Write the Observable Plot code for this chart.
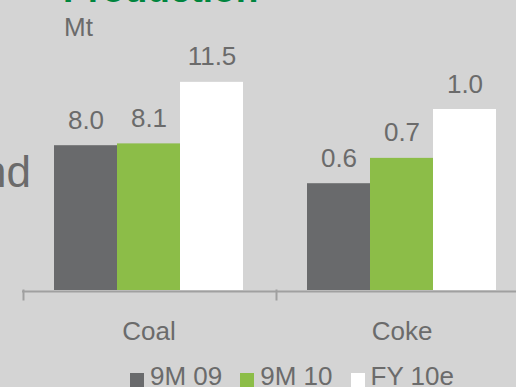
<!DOCTYPE html>
<html>
<head>
<meta charset="utf-8">
<script src="https://cdn.jsdelivr.net/npm/d3@7"></script>
<script src="https://cdn.jsdelivr.net/npm/@observablehq/plot@0.6"></script>
<style>
  html, body { margin: 0; padding: 0; background: #d4d4d4; }
  #wrap { position: relative; width: 516px; height: 387px; overflow: hidden; background: #d4d4d4;
          font-family: "Liberation Sans", Arial, sans-serif; color: #6b6b6b; }
  #wrap svg { position: absolute; left: 0; top: 0; overflow: visible; }
  .abs { position: absolute; white-space: nowrap; line-height: 1; }
  #title { left: 63px; top: -29px; font-size: 37px; font-weight: bold; color: #00853e; }
  #unit { left: 64px; top: 13.6px; font-size: 26px; }
  #cut { right: 485px; top: 149.8px; font-size: 44px; }
  #legend { left: 130px; top: 363.3px; font-size: 26px; display: flex; }
  #legend .item { margin-right: 18px; }
  #legend .sw { display: inline-block; width: 14px; height: 14px; margin-right: 6px; vertical-align: -2px; }
</style>
</head>
<body>
<div id="wrap">
  <div class="abs" id="title">Production</div>
  <div class="abs" id="unit">Mt</div>
  <div class="abs" id="cut">nd</div>
  <div class="abs" id="legend"></div>
</div>
<script>
const categories = ["Coal", "Coke"];
const series = ["9M 09", "9M 10", "FY 10e"];
const coalValues = [8.0, 8.1, 11.5];
const cokeValues = [0.59, 0.73, 1.0];
const cokeAxisFactor = 10; // coke is plotted on a secondary axis (1 Mt coke = 10 Mt coal height)
const colors = ["#696a6c", "#8cbd48", "#ffffff"];

const data = [];
series.forEach((s, i) => {
  data.push({category: "Coal", series: s, value: coalValues[i], plotValue: coalValues[i]});
  data.push({category: "Coke", series: s, value: cokeValues[i], plotValue: cokeValues[i] * cokeAxisFactor});
});

const H = 387, marginBottom = 97, marginTop = 72.8;
const plotH = H - marginBottom - marginTop;

const chart = Plot.plot({
  width: 516,
  height: H,
  marginLeft: 22,
  marginRight: -12,
  marginTop,
  marginBottom,
  style: {background: "transparent", fontFamily: "'Liberation Sans', Arial, sans-serif", fontSize: "26px", color: "#6b6b6b", overflow: "visible"},
  fx: {domain: categories, padding: 0, label: null, tickSize: 0, tickPadding: 31.5, axis: "bottom"},
  x: {domain: series, paddingInner: 0, paddingOuter: 32 / 63, axis: null},
  y: {domain: [0, 12], axis: null},
  color: {domain: series, range: colors},
  marks: [
    Plot.barY(data, {fx: "category", x: "series", y: "plotValue", fill: "series", inset: 0}),
    Plot.text(data, {fx: "category", x: "series", y: "plotValue", text: d => d.value.toFixed(1),
      lineAnchor: "bottom", dy: -17, fontSize: 26, fill: "#6b6b6b"}),
    Plot.ruleY([0], {stroke: "#a0a0a0", strokeWidth: 2, dy: 1}),
    Plot.frame({anchor: "left", stroke: "#a0a0a0", strokeWidth: 2, insetTop: plotH, insetBottom: -9, dx: 1})
  ]
});
document.getElementById("wrap").prepend(chart);

const legend = document.getElementById("legend");
series.forEach((s, i) => {
  const item = document.createElement("span");
  item.className = "item";
  const sw = document.createElement("span");
  sw.className = "sw";
  sw.style.background = colors[i];
  item.appendChild(sw);
  item.appendChild(document.createTextNode(s));
  legend.appendChild(item);
});
</script>
</body>
</html>
